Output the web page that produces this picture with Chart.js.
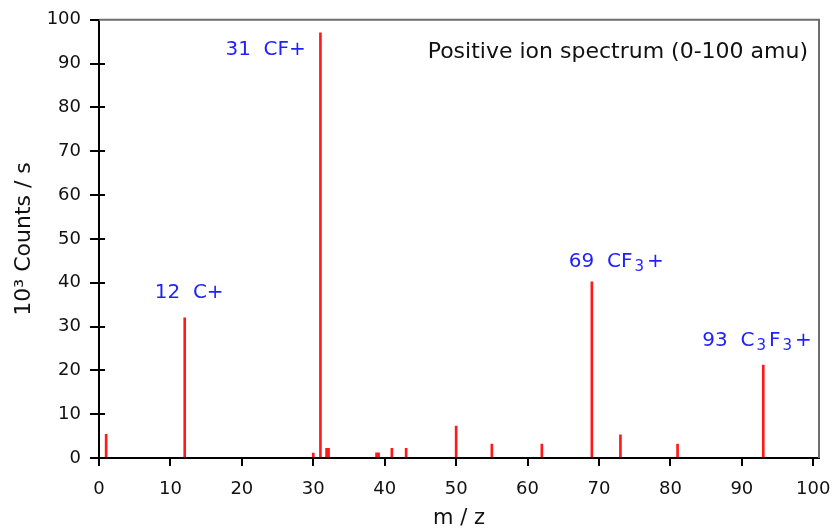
<!DOCTYPE html>
<html>
<head>
<meta charset="utf-8">
<script src="https://cdn.jsdelivr.net/npm/chart.js@4.4.1/dist/chart.umd.min.js"></script>
<style>
  html, body { margin: 0; padding: 0; background: #fff; }
</style>
</head>
<body>
<canvas id="chart" width="836" height="532"></canvas>
<script>
// m/z of each peak and its height (10^3 counts / s)
const massNumbers = [1, 12, 30, 31, 41, 43, 50, 55, 62, 69, 73, 81, 93];
const counts = [5.4, 32, 1.1, 97, 2.2, 2.2, 7.3, 3.2, 3.2, 40.2, 5.3, 3.2, 21.2];

// two small peaks drawn as wider bars in the original
const wideMasses = [32, 39];
const wideCounts = [2.2, 1.2];

const xTicks = [0, 10, 20, 30, 40, 50, 60, 70, 80, 90, 100];
const yTicks = [0, 10, 20, 30, 40, 50, 60, 70, 80, 90, 100];

// labelled peaks ("_3" = subscript 3)
const labelMasses = [12, 31, 69, 93];
const labelTexts = ["12  C+", "31  CF+", "69  CF_3+", "93  C_3F_3+"];

const panelTitle = "Positive ion spectrum (0-100 amu)";

const FONT = "'DejaVu Sans', sans-serif";

// where each label sits relative to the top of its peak
const labelOffsets = [
  { dx: -30, dy: -20 },
  { dx: -95, dy: 22 },
  { dx: -23, dy: -15 },
  { dx: -61, dy: -19 },
];

function drawLabel(ctx, text, x, y) {
  const parts = text.split(/(_3)/);
  let cx = x;
  parts.forEach((p) => {
    if (!p) return;
    if (p === "_3") {
      ctx.font = "15px " + FONT;
      cx += 2;
      ctx.fillText("3", cx, y + 4);
      cx += ctx.measureText("3").width + 3;
    } else {
      ctx.font = "20px " + FONT;
      ctx.fillText(p, cx, y);
      cx += ctx.measureText(p).width;
    }
  });
}

const extras = {
  id: "extras",
  afterDraw(chart) {
    const { ctx, chartArea, scales } = chart;
    const { left, right, top, bottom } = chartArea;
    ctx.save();

    // grey frame on top and right
    ctx.strokeStyle = "#6e6e6e";
    ctx.lineWidth = 2;
    ctx.beginPath();
    ctx.moveTo(left, top);
    ctx.lineTo(right, top);
    ctx.lineTo(right, bottom);
    ctx.stroke();

    // y ticks cross the axis
    ctx.strokeStyle = "#000";
    ctx.lineWidth = 2;
    yTicks.slice(0, -1).forEach((v) => {
      const y = Math.round(scales.y.getPixelForValue(v));
      ctx.beginPath();
      ctx.moveTo(left, y);
      ctx.lineTo(left + 6, y);
      ctx.stroke();
    });

    // peak labels
    ctx.fillStyle = "#1f1fff";
    ctx.textBaseline = "alphabetic";
    ctx.textAlign = "left";
    labelMasses.forEach((m, i) => {
      const idx = massNumbers.indexOf(m);
      const px = scales.x.getPixelForValue(m);
      const py = scales.y.getPixelForValue(counts[idx]);
      drawLabel(ctx, labelTexts[i], px + labelOffsets[i].dx, py + labelOffsets[i].dy);
    });

    // title inside the plot
    ctx.fillStyle = "#111";
    ctx.font = "22px " + FONT;
    ctx.textAlign = "right";
    ctx.fillText(panelTitle, right - 11, top + 38);

    ctx.restore();
  },
};

const ctx = document.getElementById("chart").getContext("2d");
new Chart(ctx, {
  type: "bar",
  data: {
    datasets: [
      {
        data: massNumbers.map((m, i) => ({ x: m, y: counts[i] })),
        backgroundColor: "#ff1a1a",
        barThickness: 2,
      },
      {
        data: wideMasses.map((m, i) => ({ x: m, y: wideCounts[i] })),
        backgroundColor: "#ff1a1a",
        barThickness: 4,
      },
    ],
  },
  options: {
    responsive: false,
    animation: false,
    grouped: false,
    layout: { padding: { left: 0, top: 17, right: 17, bottom: 0 } },
    plugins: {
      legend: { display: false },
      tooltip: { enabled: false },
    },
    scales: {
      x: {
        type: "linear",
        min: 0,
        max: 100.8,
        offset: false,
        afterBuildTicks: (scale) => {
          scale.ticks = xTicks.map((v) => ({ value: v }));
        },
        afterFit: (scale) => {
          scale.height = 74;
          scale.paddingLeft = 0;
          scale.paddingRight = 0;
        },
        grid: { display: true, offset: false, drawOnChartArea: false, drawTicks: true, tickLength: 8, color: "#000", lineWidth: 2 },
        border: { display: true, color: "#000", width: 2 },
        ticks: { color: "#111", font: { family: FONT, size: 18 }, padding: 13, maxRotation: 0 },
        title: {
          display: true,
          text: "m / z",
          color: "#111",
          font: { family: FONT, size: 21 },
          padding: { top: 0, bottom: 1 },
        },
      },
      y: {
        min: 0,
        max: 100,
        afterBuildTicks: (scale) => {
          scale.ticks = yTicks.map((v) => ({ value: v }));
        },
        afterFit: (scale) => {
          scale.width = 99;
        },
        grid: { display: true, drawOnChartArea: false, drawTicks: true, tickLength: 9, color: "#000", lineWidth: 2 },
        border: { display: true, color: "#000", width: 2 },
        ticks: { color: "#111", font: { family: FONT, size: 18 }, padding: 9 },
        title: {
          display: true,
          text: "10³ Counts / s",
          color: "#111",
          font: { family: FONT, size: 22 },
          padding: { top: 11, bottom: 0 },
        },
      },
    },
  },
  plugins: [extras],
});
</script>
</body>
</html>
